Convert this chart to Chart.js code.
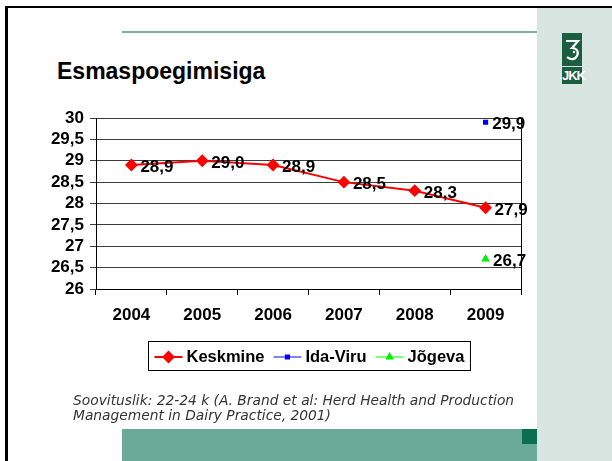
<!DOCTYPE html>
<html>
<head>
<meta charset="utf-8">
<script src="https://cdn.jsdelivr.net/npm/chart.js@4"></script>
<style>
  body { margin: 0; width: 612px; height: 461px; background: #fff; overflow: hidden; position: relative; font-family: "Liberation Sans", Arial, sans-serif; }
  .abs { position: absolute; }
  #frame { left: 5px; top: 6px; width: 607px; height: 455px; border-left: 3px solid #000; border-top: 2px solid #000; box-sizing: border-box; }
  #side { left: 537px; top: 8px; width: 75px; height: 453px; background: #d9e5e0; }
  #topline { left: 122px; top: 31px; width: 415px; height: 2px; background: #7fb3a0; }
  #title { left: 57px; top: 60px; font-size: 23px; line-height: 23px; font-weight: bold; color: #000; }
  #note { left: 73px; top: 393px; font-family: "DejaVu Sans", Verdana, sans-serif; font-size: 13.8px; line-height: 15px; font-style: italic; color: #333; }
  #bar { left: 122px; top: 429px; width: 415px; height: 32px; background: #6aaa96; }
  #sq { left: 522px; top: 429px; width: 15px; height: 15px; background: #0a6f4f; }
  #logo1 { left: 562px; top: 33px; width: 20px; height: 33px; background: #1b5e3f; }
  #logo2 { left: 562px; top: 67px; width: 20px; height: 17px; background: #1b5e3f; color: #fff; font: bold 13px "Liberation Sans Narrow", "Liberation Sans", Arial, sans-serif; text-align: center; line-height: 17px; letter-spacing: -1px; }
  canvas { position: absolute; left: 0; top: 0; }
</style>
</head>
<body>
<div class="abs" id="frame"></div>
<div class="abs" id="side"></div>
<div class="abs" id="topline"></div>
<div class="abs" id="logo1">
  <svg width="20" height="33" viewBox="0 0 20 33">
    <path d="M4 8 H16 L10 15 C15 15 17 19 15 23 C13 27 8 27 5 24" fill="none" stroke="#fff" stroke-width="2.2"/>
    <circle cx="12" cy="19" r="1.2" fill="#fff"/>
  </svg>
</div>
<div class="abs" id="logo2">JKK</div>
<div class="abs" id="title">Esmaspoegimisiga</div>
<canvas id="chart" width="612" height="461"></canvas>
<div class="abs" id="note">Soovituslik: 22-24 k (A. Brand et al: Herd Health and Production<br>Management in Dairy Practice, 2001)</div>
<div class="abs" id="bar"></div>
<div class="abs" id="sq"></div>

<script>
const years = ['2004', '2005', '2006', '2007', '2008', '2009'];
const keskmine = [28.9, 29.0, 28.9, 28.5, 28.3, 27.9];
const idaViru = [null, null, null, null, null, 29.9];
const jogeva = [null, null, null, null, null, 26.7];
const yTicks = [26, 26.5, 27, 27.5, 28, 28.5, 29, 29.5, 30];

const FONT = '"Liberation Sans", Arial, sans-serif';
const comma = v => String(v).replace('.', ',');

// value labels right of each point
const valueLabels = {
  id: 'valueLabels',
  afterDatasetsDraw(chart) {
    const ctx = chart.ctx;
    ctx.save();
    ctx.font = 'bold 17px ' + FONT;
    ctx.fillStyle = '#000';
    ctx.textBaseline = 'middle';
    ctx.textAlign = 'left';
    chart.data.datasets.forEach((ds, i) => {
      const meta = chart.getDatasetMeta(i);
      meta.data.forEach((pt, j) => {
        const v = ds.data[j];
        if (v == null) return;
        ctx.fillText(v.toFixed(1).replace('.', ','), pt.x + ds.pointRadius + 4, pt.y + 2.5);
      });
    });
    ctx.restore();
  }
};

// right border of plot + boxed legend with line and marker
const frameLegend = {
  id: 'frameLegend',
  afterDraw(chart) {
    const ctx = chart.ctx;
    const a = chart.chartArea;
    ctx.save();
    ctx.strokeStyle = '#000';
    ctx.lineWidth = 1;
    ctx.beginPath();
    ctx.moveTo(Math.round(a.right) + 0.5, a.top);
    ctx.lineTo(Math.round(a.right) + 0.5, a.bottom);
    ctx.stroke();

    ctx.font = 'bold 16.5px ' + FONT;
    const sample = 28, gapText = 4, gapItem = 9, pad = 6;
    const items = chart.data.datasets.map(ds => ({ ds, w: ctx.measureText(ds.label).width }));
    let total = items.reduce((s, it) => s + sample + gapText + it.w, 0) + gapItem * (items.length - 1);
    const boxW = total + pad * 2, boxH = 29;
    const boxX = Math.round((a.left + a.right) / 2 - boxW / 2) + 0.5;
    const boxY = 341.5;
    ctx.strokeRect(boxX, boxY, boxW, boxH);
    const cy = boxY + boxH / 2 + 1;
    let x = boxX + pad;
    items.forEach(it => {
      const ds = it.ds;
      ctx.strokeStyle = ds.borderColor;
      ctx.lineWidth = ds.borderWidth;
      ctx.beginPath();
      ctx.moveTo(x, cy);
      ctx.lineTo(x + sample, cy);
      ctx.stroke();
      ctx.fillStyle = ds.pointBackgroundColor;
      ctx.strokeStyle = ds.pointBackgroundColor;
      Chart.helpers.drawPoint(ctx, {
        pointStyle: ds.pointStyle, radius: ds.pointRadius, borderWidth: 1, rotation: 0
      }, x + sample / 2, cy);
      ctx.fillStyle = '#000';
      ctx.textBaseline = 'middle';
      ctx.fillText(ds.label, x + sample + gapText, cy);
      x += sample + gapText + it.w + gapItem;
    });
    ctx.restore();
  }
};

new Chart(document.getElementById('chart'), {
  type: 'line',
  data: {
    labels: years,
    datasets: [
      {
        label: 'Keskmine', data: keskmine,
        borderColor: '#ff0000', backgroundColor: '#ff0000',
        pointBackgroundColor: '#ff0000', pointBorderColor: '#ff0000',
        borderWidth: 2, pointStyle: 'rectRot', pointRadius: 5, tension: 0
      },
      {
        label: 'Ida-Viru', data: idaViru,
        borderColor: '#5a5aff', backgroundColor: '#0000ff',
        pointBackgroundColor: '#0000ff', pointBorderColor: '#0000ff',
        borderWidth: 1.5, pointStyle: 'rect', pointRadius: 2.6
      },
      {
        label: 'Jõgeva', data: jogeva,
        borderColor: '#55ff55', backgroundColor: '#00ee00',
        pointBackgroundColor: '#00ee00', pointBorderColor: '#00ee00',
        borderWidth: 1.5, pointStyle: 'triangle', pointRadius: 3.5
      }
    ]
  },
  options: {
    responsive: false,
    animation: false,
    devicePixelRatio: 1,
    layout: { padding: { left: 40, right: 91, top: 118, bottom: 131 } },
    plugins: {
      legend: { display: false },
      tooltip: { enabled: false }
    },
    elements: { point: { hoverRadius: 5 } },
    scales: {
      x: {
        offset: true,
        afterFit: s => { s.height = 41; },
        grid: { offset: true, drawOnChartArea: false, drawTicks: true, tickLength: 6, color: '#000' },
        border: { color: '#000', width: 1 },
        ticks: { color: '#000', font: { family: FONT, size: 17, weight: 'bold' }, padding: 10, maxRotation: 0 }
      },
      y: {
        min: yTicks[0], max: yTicks[yTicks.length - 1],
        afterFit: s => { s.width = 56; },
        afterBuildTicks: s => { s.ticks = yTicks.map(v => ({ value: v })); },
        grid: { color: '#3c3c3c', lineWidth: 1, tickLength: 6 },
        border: { color: '#000', width: 1 },
        ticks: {
          autoSkip: false, color: '#000', padding: 6,
          font: { family: FONT, size: 17, weight: 'bold' },
          callback: v => comma(v)
        }
      }
    }
  },
  plugins: [valueLabels, frameLegend]
});
</script>
</body>
</html>
